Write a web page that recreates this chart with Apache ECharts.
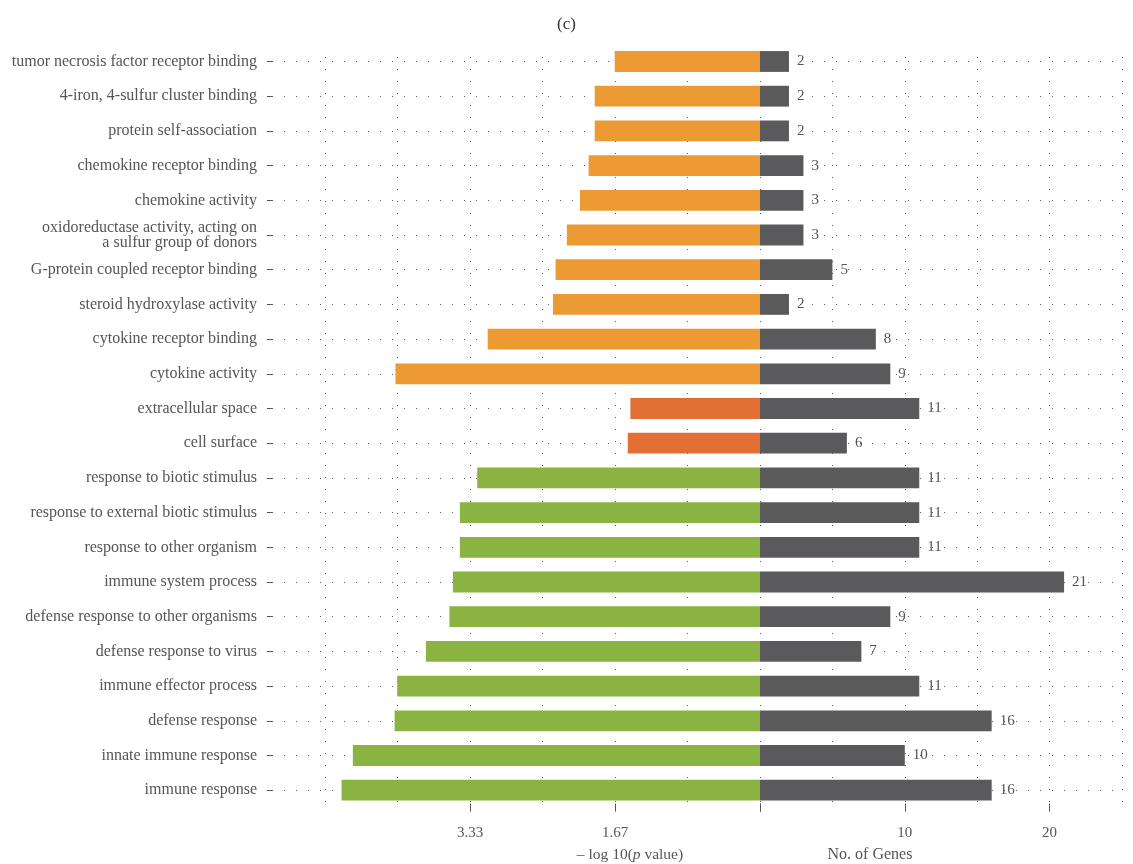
<!DOCTYPE html>
<html><head><meta charset="utf-8">
<script src="https://cdn.jsdelivr.net/npm/echarts@6/dist/echarts.min.js"></script>
<style>html,body{margin:0;padding:0;background:#fff}#c{width:1133px;height:864px}</style>
</head><body><div id="c"></div>
<script>
const categories = [
  'tumor necrosis factor receptor binding',
  '4-iron, 4-sulfur cluster binding',
  'protein self-association',
  'chemokine receptor binding',
  'chemokine activity',
  'oxidoreductase activity, acting on\na sulfur group of donors',
  'G-protein coupled receptor binding',
  'steroid hydroxylase activity',
  'cytokine receptor binding',
  'cytokine activity',
  'extracellular space',
  'cell surface',
  'response to biotic stimulus',
  'response to external biotic stimulus',
  'response to other organism',
  'immune system process',
  'defense response to other organisms',
  'defense response to virus',
  'immune effector process',
  'defense response',
  'innate immune response',
  'immune response'
];
const pValues = [1.67, 1.90, 1.90, 1.97, 2.07, 2.22, 2.35, 2.38, 3.13, 4.19,
                 1.49, 1.52,
                 3.25, 3.45, 3.45, 3.53, 3.57, 3.84, 4.17, 4.20, 4.68, 4.81];
const geneCounts = [2, 2, 2, 3, 3, 3, 5, 2, 8, 9,
                    11, 6,
                    11, 11, 11, 21, 9, 7, 11, 16, 10, 16];
const groups = ['MF','MF','MF','MF','MF','MF','MF','MF','MF','MF',
                'CC','CC',
                'BP','BP','BP','BP','BP','BP','BP','BP','BP','BP'];
const groupColors = {MF: '#EC9A34', CC: '#E27035', BP: '#8AB341'};
const geneColor = '#5A5A5C';
const pTickValues = [0, 5/3, 10/3];
const pTickLabels = [5/3, 10/3];
const geneTickValues = [0, 10, 20];
const geneTickLabels = [10, 20];

const SERIF = 'Liberation Serif';
const TXT = '#555555';
const dotted = {color: '#5a5a5a', width: 1, type: [1, 11]};

const chart = echarts.init(document.getElementById('c'), null, {renderer: 'canvas'});
const topC = 61.5, botC = 864 - 790.2;
const half = 17.35;

const tickAxis = (grid, inverse, max, ticks, labels, fmt) => ({
  gridIndex: grid, type: 'value', position: 'bottom', inverse: inverse, min: 0, max: max,
  offset: -4,
  axisLine: {show: false},
  axisTick: {show: true, length: 8, customValues: ticks, lineStyle: {color: '#555'}},
  axisLabel: {customValues: labels, margin: 22, fontFamily: SERIF, fontSize: 15, color: TXT,
              formatter: fmt},
  splitLine: {show: false}
});
const gridAxis = (grid, inverse, max, interval) => ({
  gridIndex: grid, type: 'value', position: 'bottom', inverse: inverse, min: 0, max: max,
  interval: interval,
  axisLine: {show: false}, axisTick: {show: false}, axisLabel: {show: false},
  splitLine: {show: true, lineStyle: dotted}
});

const option = {
  animation: false,
  backgroundColor: '#fff',
  title: {
    text: '(c)', left: 'center', top: 11,
    textStyle: {fontFamily: SERIF, fontSize: 17, fontWeight: 'normal', color: '#333'}
  },
  grid: [
    {left: 272, right: 11, top: topC, bottom: botC},
    {left: 325, right: 1133 - 760, top: topC - half, bottom: botC - half},
    {left: 760, right: 11, top: topC - half, bottom: botC - half},
    {left: 325, right: 1133 - 760, top: 57, bottom: 61},
    {left: 760, right: 11, top: 57, bottom: 61}
  ],
  yAxis: [
    {gridIndex: 0, type: 'category', data: categories, inverse: true, boundaryGap: false,
     axisLine: {show: false},
     axisTick: {show: true, length: 5, lineStyle: {color: '#555'}},
     axisLabel: {margin: 15, fontFamily: SERIF, fontSize: 16, color: TXT, lineHeight: 15},
     splitLine: {show: true, lineStyle: dotted}},
    {gridIndex: 1, type: 'category', data: categories, inverse: true, show: false},
    {gridIndex: 2, type: 'category', data: categories, inverse: true, show: false},
    {gridIndex: 3, type: 'value', show: false},
    {gridIndex: 4, type: 'value', show: false}
  ],
  xAxis: [
    {gridIndex: 0, type: 'value', show: false, min: 0, max: 1},
    tickAxis(1, true, 5, pTickValues, pTickLabels, v => v.toFixed(2)),
    tickAxis(2, false, 25, geneTickValues, geneTickLabels, v => String(v)),
    gridAxis(3, true, 5, 5/6),
    gridAxis(4, false, 25, 5)
  ],
  graphic: [
    {type: 'text', x: 630, y: 847, style: {
      text: '– log 10({i|p} value)', align: 'center', verticalAlign: 'top',
      fill: TXT, font: '15.5px "Liberation Serif"',
      rich: {i: {fontStyle: 'italic', fontFamily: SERIF, fontSize: 15.5, fill: TXT}}
    }},
    {type: 'text', x: 870, y: 847, style: {
      text: 'No. of Genes', align: 'center', verticalAlign: 'top',
      fill: TXT, font: '16px "Liberation Serif"'
    }}
  ],
  series: [
    {type: 'bar', xAxisIndex: 1, yAxisIndex: 1, barWidth: '60%',
     data: pValues.map((v, i) => ({value: v, itemStyle: {color: groupColors[groups[i]]}}))},
    {type: 'bar', xAxisIndex: 2, yAxisIndex: 2, barWidth: '60%',
     itemStyle: {color: geneColor},
     label: {show: true, position: 'right', distance: 8, fontFamily: SERIF, fontSize: 15, color: TXT},
     data: geneCounts}
  ]
};
chart.setOption(option);
</script></body></html>
